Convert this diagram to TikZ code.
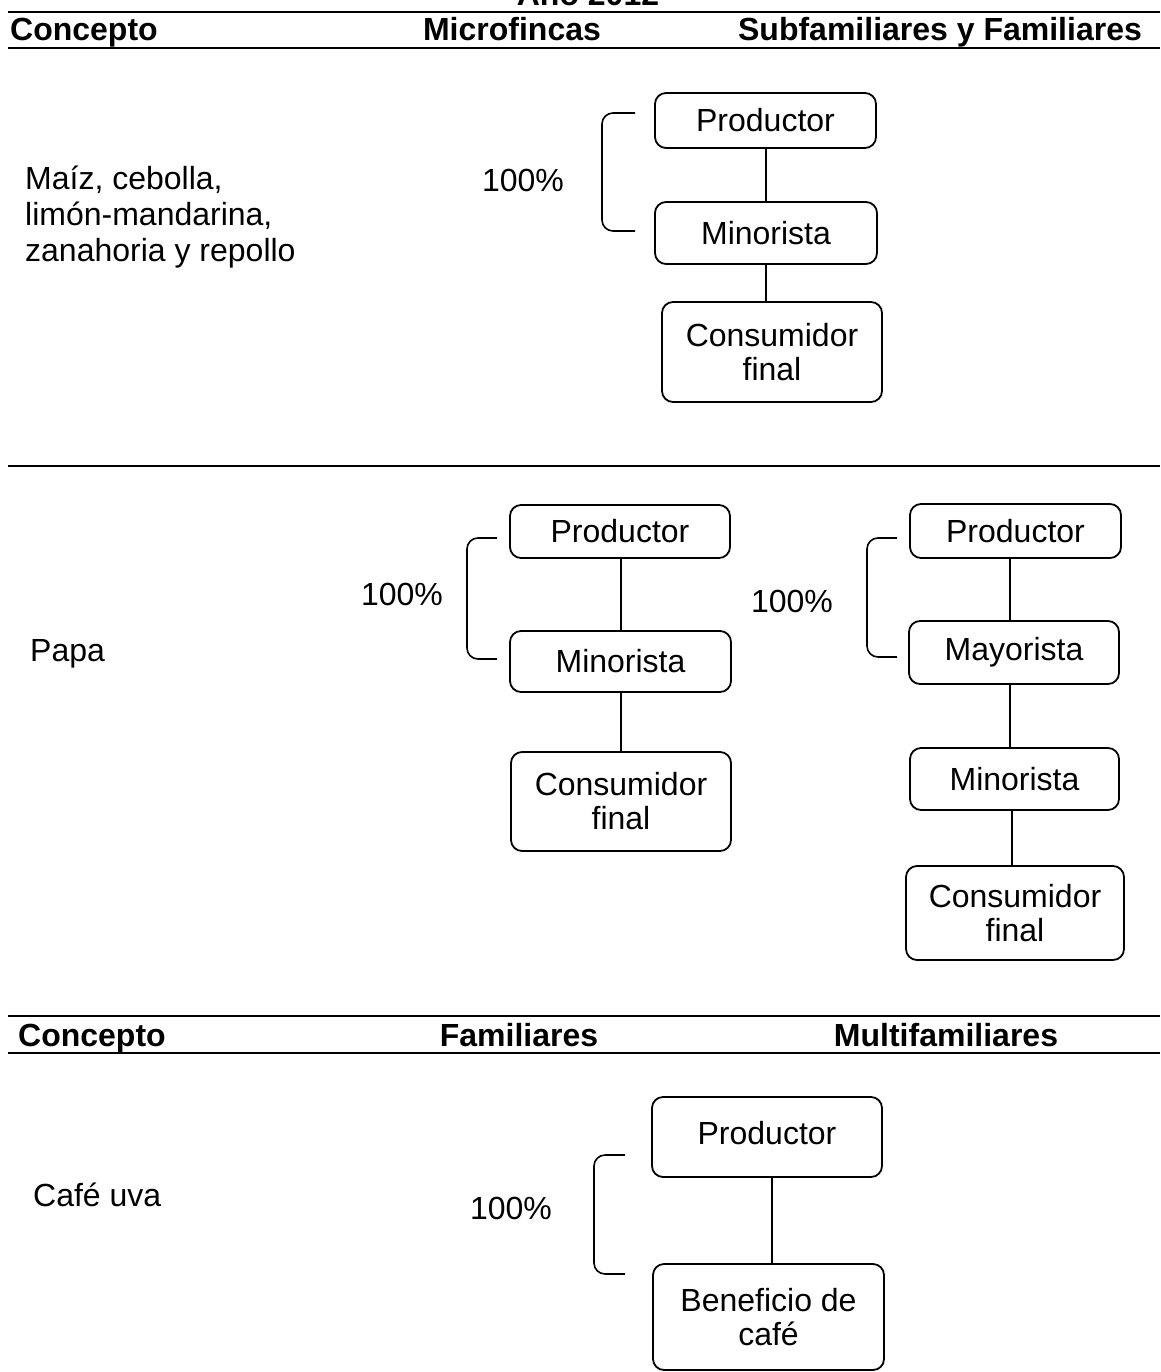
\documentclass[tikz,border=0pt]{standalone}
\usepackage{fontspec}
\setmainfont{Liberation Sans}
\begin{document}
\begin{tikzpicture}[x=1pt,y=-1pt,
  txt/.style={font=\fontsize{32}{36}\selectfont, inner sep=0pt},
  head/.style={font=\fontsize{32}{36}\selectfont\bfseries, inner sep=0pt, anchor=base},
  rule/.style={line width=2.2pt},
  box/.style={draw, line width=1.8pt, rounded corners=11pt, inner sep=0pt,
    font=\fontsize{32}{34}\selectfont, align=center},
  link/.style={line width=1.6pt},
  brace/.style={line width=1.6pt, rounded corners=11pt}]
\useasboundingbox (0,0) rectangle (1160,1372);
\begin{scope}
\clip (0,0) rectangle (1160,1372);

% ---- header of the upper table
\node[head] (year) at (588,6) {Año 2012};
\draw[rule] (8,12) -- (1160,12);
\node[head, anchor=base west] (h1a) at (10,41) {Concepto};
\node[head] (h1b) at (512,41) {Microfincas};
\node[head] (h1c) at (940,41) {Subfamiliares y Familiares};
\draw[rule] (8,48) -- (1160,48);

% ---- row 1: maíz, cebolla, ...
\node[txt, anchor=west, align=left] (c1) at (25,217)
  {Maíz, cebolla,\\limón-mandarina,\\zanahoria y repollo};
\node[txt] (pc1) at (523,180) {100\%};
\node[box, minimum width=221, minimum height=55] (a1) at (765.5,120.5) {\raisebox{-3pt}{Productor}};
\node[box, minimum width=222, minimum height=62] (a2) at (766,233) {Minorista};
\node[box, minimum width=220, minimum height=100] (a3) at (772,352) {Consumidor\\final};
\draw[link] (a1.south -| 766,0) -- (a2.north -| 766,0);
\draw[link] (a2.south -| 766,0) -- (a3.north -| 766,0);
\coordinate (b1t) at (635,113);
\coordinate (b1b) at (635,231);
\draw[brace] (b1t) -- (602,113) -- (602,231) -- (b1b);

\draw[rule] (8,466) -- (1160,466);

% ---- row 2: papa
\node[txt, anchor=west] (c2) at (30,654) {Papa};
% microfincas
\node[txt] (pc2) at (402,594) {100\%};
\node[box, minimum width=220, minimum height=53] (m1) at (620,531.5) {\raisebox{-2pt}{Productor}};
\node[box, minimum width=221, minimum height=61] (m2) at (620.5,661.5) {Minorista};
\node[box, minimum width=220, minimum height=99] (m3) at (621,801.5) {Consumidor\\final};
\draw[link] (m1.south -| 621,0) -- (m2.north -| 621,0);
\draw[link] (m2.south -| 621,0) -- (m3.north -| 621,0);
\coordinate (b2t) at (497,538);
\coordinate (b2b) at (497,659);
\draw[brace] (b2t) -- (467,538) -- (467,659) -- (b2b);
% subfamiliares y familiares
\node[txt] (pc3) at (792,601) {100\%};
\node[box, minimum width=211, minimum height=54] (s1) at (1015.5,531) {\raisebox{-2pt}{Productor}};
\node[box, minimum width=210, minimum height=63] (s2) at (1014,652.5) {Mayorista};
\node[box, minimum width=209, minimum height=62] (s3) at (1014.5,779) {Minorista};
\node[box, minimum width=218, minimum height=94] (s4) at (1015,913) {Consumidor\\final};
\draw[link] (s1.south -| 1010,0) -- (s2.north -| 1010,0);
\draw[link] (s2.south -| 1010,0) -- (s3.north -| 1010,0);
\draw[link] (s3.south -| 1012,0) -- (s4.north -| 1012,0);
\coordinate (b3t) at (897,538);
\coordinate (b3b) at (897,657);
\draw[brace] (b3t) -- (867,538) -- (867,657) -- (b3b);

% ---- header of the lower table
\draw[rule] (8,1016) -- (1160,1016);
\node[head, anchor=base west] (h2a) at (18,1046) {Concepto};
\node[head] (h2b) at (519,1046) {Familiares};
\node[head] (h2c) at (946,1046) {Multifamiliares};
\draw[rule] (8,1053) -- (1160,1053);

% ---- row 3: café uva
\node[txt, anchor=west] (c3) at (33,1195) {Café uva};
\node[txt] (pc4) at (511,1208) {100\%};
\node[box, minimum width=230, minimum height=80] (f1) at (767,1137) {\raisebox{8pt}{Productor}};
\node[box, minimum width=231, minimum height=106] (f2) at (768.5,1317) {Beneficio de\\café};
\draw[link] (f1.south -| 772,0) -- (f2.north -| 772,0);
\coordinate (b4t) at (625,1155);
\coordinate (b4b) at (625,1274);
\draw[brace] (b4t) -- (594,1155) -- (594,1274) -- (b4b);
\end{scope}
\end{tikzpicture}
\end{document}
